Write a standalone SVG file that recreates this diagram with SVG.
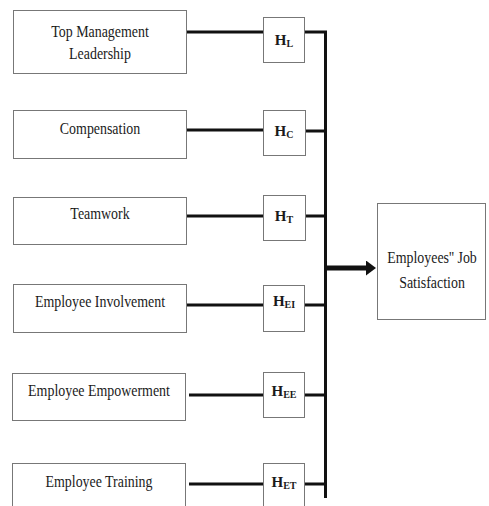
<svg xmlns="http://www.w3.org/2000/svg" width="489" height="506" viewBox="0 0 489 506">
<style>
.box{fill:#fff;stroke:#777;stroke-width:1}
.t{font-family:'Liberation Serif','DejaVu Serif',serif;font-size:16px;fill:#1a1a1a;text-anchor:middle}
.h{font-family:'Liberation Serif','DejaVu Serif',serif;font-size:15px;font-weight:bold;fill:#1a1a1a;text-anchor:middle}
.sub{font-size:10px}
.ln{stroke:#111;stroke-width:3;fill:none}
</style>
<defs>
<marker id="ah" markerWidth="3" markerHeight="3" refX="1" refY="1.5" orient="auto" markerUnits="strokeWidth">
<path d="M0,0 L2,1.5 L0,3 Z" fill="#111"/>
</marker>
</defs>
<rect width="489" height="506" fill="#fff"/>
<g id="connectors">
<path class="ln" d="M187,32 H263 M305,32 H325.5 V498"/>
<path class="ln" d="M187,130 H263 M306,131 H325"/>
<path class="ln" d="M187,216 H263 M306,216 H325"/>
<path class="ln" d="M187,305 H263 M305,305 H325"/>
<path class="ln" d="M189,395 H263 M305,395 H325"/>
<path class="ln" d="M189,484 H263 M305,484 H325"/>
<line x1="326" y1="268" x2="371" y2="268" stroke="#111" stroke-width="5" marker-end="url(#ah)"/>
</g>
<g id="n-leadership"><rect class="box" x="13.5" y="10.5" width="173" height="63"/><text class="t" transform="matrix(0.87,0,0,1,100,37)">Top Management</text><text class="t" transform="matrix(0.87,0,0,1,100,59)">Leadership</text></g>
<g id="n-compensation"><rect class="box" x="13.5" y="110.5" width="173" height="48"/><text class="t" transform="matrix(0.87,0,0,1,100,134)">Compensation</text></g>
<g id="n-teamwork"><rect class="box" x="13.5" y="197.5" width="173" height="47"/><text class="t" transform="matrix(0.87,0,0,1,100,219)">Teamwork</text></g>
<g id="n-involvement"><rect class="box" x="13.5" y="284.5" width="173" height="48"/><text class="t" transform="matrix(0.87,0,0,1,100,307)">Employee Involvement</text></g>
<g id="n-empowerment"><rect class="box" x="12.5" y="373.5" width="173" height="47"/><text class="t" transform="matrix(0.87,0,0,1,99,396)">Employee Empowerment</text></g>
<g id="n-training"><rect class="box" x="12.5" y="463.5" width="173" height="60"/><text class="t" transform="matrix(0.87,0,0,1,99,487)">Employee Training</text></g>
<g id="n-hl"><rect class="box" x="263.5" y="17.5" width="41" height="45"/><text class="h" x="284" y="45">H<tspan class="sub" dy="2">L</tspan></text></g>
<g id="n-hc"><rect class="box" x="263.5" y="110.5" width="42" height="45"/><text class="h" x="284" y="136">H<tspan class="sub" dy="2">C</tspan></text></g>
<g id="n-ht"><rect class="box" x="263.5" y="195.5" width="42" height="45"/><text class="h" x="284" y="221">H<tspan class="sub" dy="2">T</tspan></text></g>
<g id="n-hei"><rect class="box" x="263.5" y="285.5" width="41" height="46"/><text class="h" x="284" y="306">H<tspan class="sub" dy="2">EI</tspan></text></g>
<g id="n-hee"><rect class="box" x="263.5" y="372.5" width="41" height="45"/><text class="h" x="284" y="396">H<tspan class="sub" dy="2">EE</tspan></text></g>
<g id="n-het"><rect class="box" x="263.5" y="463.5" width="41" height="60"/><text class="h" x="284" y="487">H<tspan class="sub" dy="2">ET</tspan></text></g>
<g id="n-satisfaction"><rect class="box" x="377.5" y="203.5" width="108" height="116"/><text class="t" transform="matrix(0.87,0,0,1,432,263)">Employees'' Job</text><text class="t" transform="matrix(0.87,0,0,1,432,288)">Satisfaction</text></g>
</svg>
